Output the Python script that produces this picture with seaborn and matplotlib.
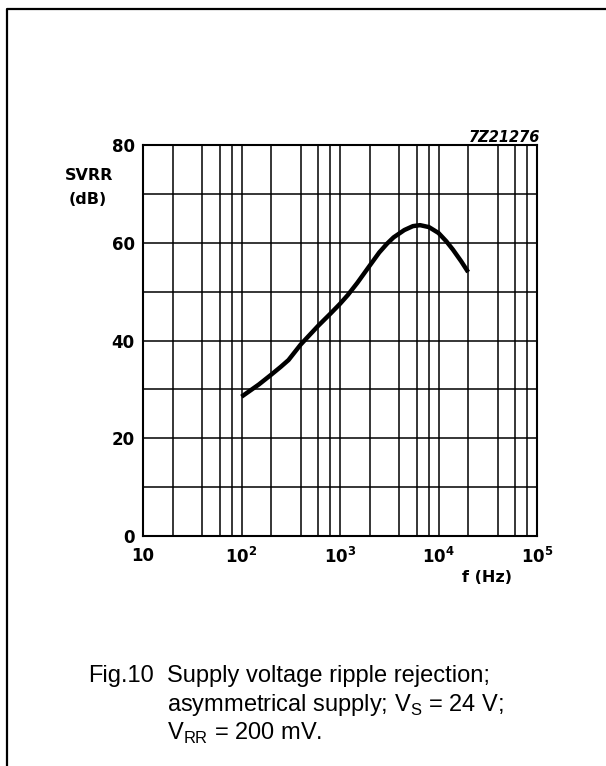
import numpy as np
import matplotlib
matplotlib.use("Agg")
import matplotlib.pyplot as plt
from matplotlib.lines import Line2D
from matplotlib.ticker import LogLocator, FixedLocator, NullFormatter
import seaborn as sns

# curve
freq_hz = [100, 150, 200, 250, 300, 400, 600, 800, 1000, 1200, 1500, 2000, 2500, 3000,
           3500, 4500, 5500, 6500, 8000, 10000, 12000, 14000, 17000, 20000]
svrr_db = [28.5, 31.0, 33.0, 34.6, 36.0, 39.2, 43.0, 45.5, 47.5, 49.3, 51.8, 55.3, 58.0, 59.8,
           61.1, 62.6, 63.4, 63.6, 63.2, 62.0, 60.3, 58.6, 56.2, 54.0]

x_ticks = [10, 100, 1000, 10000, 100000]
x_tick_labels = ["10", r"$\mathregular{10^{2}}$", r"$\mathregular{10^{3}}$",
                 r"$\mathregular{10^{4}}$", r"$\mathregular{10^{5}}$"]
y_ticks = [0, 20, 40, 60, 80]
y_minor = [10, 30, 50, 70]

sns.set_style("white")
plt.rcParams["font.family"] = ["DejaVu Sans"]
plt.rcParams.update({"text.color": "black", "xtick.color": "black",
                     "ytick.color": "black", "axes.labelcolor": "black"})

W, H = 606, 766
fig = plt.figure(figsize=(W / 100, H / 100), dpi=100)

# axes box in pixel terms of the reference
left, right, top, bottom = 143, 537, 145, 536
ax = fig.add_axes([left / W, 1 - bottom / H, (right - left) / W, (bottom - top) / H])
ax.set_xscale("log")
ax.set_xlim(10, 1e5)
ax.set_ylim(0, 80)

sns.lineplot(x=freq_hz, y=svrr_db, color="black", linewidth=3.2, ax=ax,
             solid_capstyle="butt", solid_joinstyle="round", zorder=5)

ax.xaxis.set_major_locator(FixedLocator(x_ticks))
ax.xaxis.set_minor_locator(LogLocator(base=10, subs=[2, 4, 6, 8]))
ax.xaxis.set_minor_formatter(NullFormatter())
ax.set_xticklabels(x_tick_labels)
ax.yaxis.set_major_locator(FixedLocator(y_ticks))
ax.yaxis.set_minor_locator(FixedLocator(y_minor))
ax.set_yticklabels([str(v) for v in y_ticks])

ax.grid(which="both", color="black", linewidth=1.1)
ax.tick_params(which="both", length=0, labelsize=12)
ax.tick_params(axis="y", pad=6)
ax.tick_params(axis="x", pad=8)
for lab in ax.get_xticklabels() + ax.get_yticklabels():
    lab.set_fontweight("bold")
for sp in ax.spines.values():
    sp.set_visible(True)
    sp.set_color("black")
    sp.set_linewidth(1.5)
ax.set_xlabel("")
ax.set_ylabel("")

# axis captions placed like the original sheet
fig.text(89 / W, 1 - 176 / H, "SVRR", ha="center", va="center", fontsize=11.5, fontweight="bold")
fig.text(88 / W, 1 - 200 / H, "(dB)", ha="center", va="center", fontsize=11.5, fontweight="bold")
fig.text(512 / W, 1 - 577 / H, "f (Hz)", ha="right", va="center", fontsize=11.5, fontweight="bold")
fig.text(540 / W, 1 - 137 / H, "7Z21276", ha="right", va="center", fontsize=10.5,
         fontweight="bold", fontstyle="italic")

# figure caption
cap = dict(fontsize=17, family="Liberation Sans", va="baseline", ha="left")
fig.text(88 / W, 1 - 682 / H, "Fig.10", **cap)
fig.text(167 / W, 1 - 682 / H, "Supply voltage ripple rejection;", **cap)
fig.text(167 / W, 1 - 711 / H, r"asymmetrical supply; V$_{\mathregular{S}}$ = 24 V;", **cap)
fig.text(167 / W, 1 - 740 / H, r"V$_{\mathregular{RR}}$ = 200 mV.", **cap)

# page frame (left and top edges)
fig.add_artist(Line2D([7 / W, 7 / W, 1.0], [0.0, 1 - 9 / H, 1 - 9 / H],
                      transform=fig.transFigure, color="black", linewidth=1.6))

fig.savefig("out.png", dpi=100)
